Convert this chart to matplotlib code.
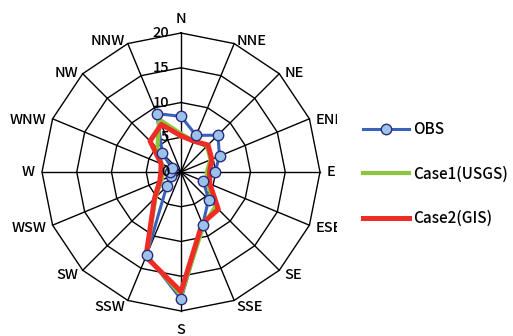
import numpy as np
import matplotlib
matplotlib.use("Agg")
import matplotlib.pyplot as plt
from matplotlib.lines import Line2D
from matplotlib.transforms import Bbox, TransformedBbox

plt.rcParams['font.family'] = ['Noto Sans CJK JP', 'DejaVu Sans']
plt.rcParams['font.weight'] = 'medium'

# wind directions, clockwise from north
directions = ["N", "NNE", "NE", "ENE", "E", "ESE", "SE", "SSE",
              "S", "SSW", "SW", "WSW", "W", "WNW", "NW", "NNW"]
r_ticks = [0, 5, 10, 15, 20]

obs = [8.0, 5.7, 7.5, 6.0, 4.9, 3.5, 5.6, 8.2,
       18.3, 12.9, 2.9, 1.5, 1.6, 1.4, 3.8, 9.1]
case1 = [5.5, 4.8, 5.3, 4.6, 3.7, 4.1, 7.0, 8.4,
         17.7, 13.0, 5.2, 3.0, 2.6, 3.0, 4.8, 8.2]
case2 = [5.2, 4.8, 5.5, 4.8, 4.1, 4.5, 7.6, 8.0,
         17.2, 13.2, 5.4, 3.3, 2.9, 3.1, 6.3, 7.4]
series_names = ["OBS", "Case1(USGS)", "Case2(GIS)"]

W, H = 513, 336
fig = plt.figure(figsize=(W / 100, H / 100), dpi=100)
cx, cy, R = 181, 172, 139
ax = fig.add_axes([(cx - R) / W, (H - cy - R) / H, 2 * R / W, 2 * R / H],
                  projection='polar')
ax.set_theta_zero_location('N')
ax.set_theta_direction(-1)
ax.set_ylim(0, 20)
ax.grid(False)
ax.set_xticks([])
ax.set_yticks([])
ax.spines['polar'].set_visible(False)
ax.patch.set_alpha(0)

n = len(directions)
theta = np.arange(n) * 2 * np.pi / n
theta_c = np.append(theta, theta[0])


def closed(v):
    return np.append(v, v[0])


# polygon grid
for r in r_ticks[1:]:
    ax.plot(theta_c, [r] * (n + 1), color='black', lw=1.0, clip_on=False, zorder=1)
for t in theta:
    ax.plot([t, t], [0, 20], color='black', lw=1.0, clip_on=False, zorder=1)

# radial tick labels along N axis
for r in r_ticks:
    ax.annotate(str(r), xy=(0, r), xytext=(-8.5, 0), textcoords='offset points',
                ha='right', va='center', fontsize=10.5, zorder=6)

# direction labels (ENE / ESE are cut by the legend area in the original)
clip = TransformedBbox(Bbox([[0, 0], [337 / W, 1]]), fig.transFigure)
for t, lab in zip(theta, directions):
    s, c = np.sin(t), np.cos(t)
    if abs(s) < 0.1:
        ha = 'center'
        va = 'baseline' if c > 0 else 'top'
        off = 7.5 if c > 0 else 9.0
        dx, dy = 0, off * c
    else:
        ha = 'left' if s > 0 else 'right'
        va = 'center'
        dx, dy = 5.0 * s, 5.0 * c
        if c > 0.1:
            dy -= 3.0
    txt = ax.annotate(lab, xy=(t, 20), xytext=(dx, dy), textcoords='offset points',
                      ha=ha, va=va, fontsize=10.5, annotation_clip=False)
    txt.set_clip_box(clip)
    txt.set_clip_on(True)

blue, green, red = "#3A62B8", "#8CC63E", "#EE2C26"
ax.plot(theta_c, closed(obs), color=blue, lw=2.2, zorder=2, clip_on=False)
ax.plot(theta_c, closed(case1), color=green, lw=3.0, zorder=3, clip_on=False)
ax.plot(theta_c, closed(case2), color=red, lw=3.6, zorder=4, clip_on=False)
ax.plot(theta, obs, ls='none', marker='o', ms=7.5, mfc="#9BC3EA",
        mec="#2B2B80", mew=1.0, zorder=5, clip_on=False)

handles = [
    Line2D([], [], color=blue, lw=2.2, marker='o', ms=7.5, mfc="#9BC3EA",
           mec="#2B2B80", mew=1.0),
    Line2D([], [], color=green, lw=3.0),
    Line2D([], [], color=red, lw=3.6),
]
fig.legend(handles, series_names, loc='upper left',
           bbox_to_anchor=(363 / W, 1 - 121 / H), bbox_transform=fig.transFigure,
           frameon=False, fontsize=11, handlelength=3.0, handletextpad=0.3,
           labelspacing=1.8, borderpad=0, borderaxespad=0)

fig.savefig("out.png", dpi=100)
